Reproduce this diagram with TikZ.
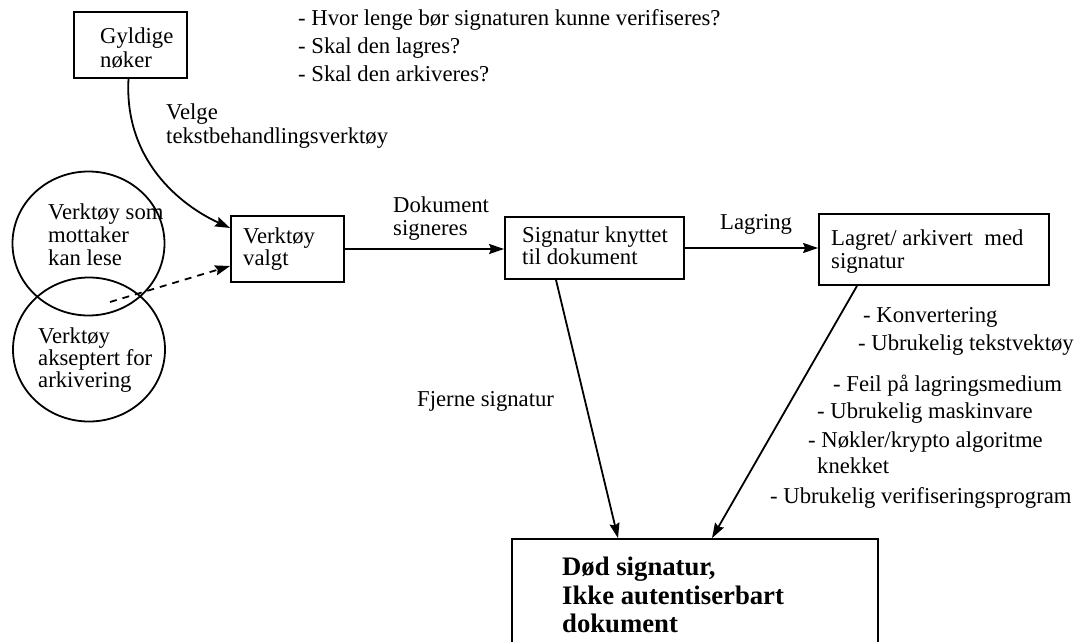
\documentclass[tikz,border=0pt]{standalone}
\usepackage{fontspec}
\setmainfont{Liberation Serif}
\usetikzlibrary{arrows.meta,calc,shapes.geometric}
\begin{document}
\begin{tikzpicture}[x=1pt,y=-1pt,
  lw/.style={line width=1.8pt},
  box/.style={draw,lw,rectangle,inner sep=0pt},
  oval/.style={draw,lw,ellipse,inner sep=0pt,minimum width=152pt,minimum height=144pt},
  txt/.style={anchor=north west,inner sep=0pt,align=left,font=\fontsize{22.7}{23}\selectfont},
  big/.style={anchor=north west,inner sep=0pt,align=left,font=\fontsize{26.7}{28.5}\selectfont\bfseries},
  arr/.style={lw,-{Stealth[length=15pt,width=10pt,inset=2pt]}},
  dsh/.style={dash pattern=on 7pt off 6pt}
]
\useasboundingbox (0,0) rectangle (1074,642);
\clip (0,0) rectangle (1074,642);

% questions at the top
\node[txt,font=\fontsize{22.7}{28}\selectfont] (qs) at (298,9.5)
  {- Hvor lenge bør signaturen kunne verifiseres?\\- Skal den lagres?\\- Skal den arkiveres?};

% valid keys
\node[box,minimum width=113pt,minimum height=66pt] (gy) at (130.5,45) {};
\node[txt,font=\fontsize{22.7}{24}\selectfont] (gyt) at (100,27.5) {Gyldige\\nøker};

\node[txt,font=\fontsize{22.7}{24}\selectfont] (velge) at (166,103.5) {Velge\\tekstbehandlingsverktøy};

% tool sets
\node[oval] (c1) at (88.5,243.5) {};
\node[txt] (c1t) at (48,203.5) {Verktøy som\\mottaker\\kan lese};
\node[oval] (c2) at (89,349.5) {};
\node[txt,font=\fontsize{22.7}{22}\selectfont] (c2t) at (38,327.5) {Verktøy\\akseptert for\\arkivering};

% main chain
\node[box,minimum width=113pt,minimum height=66pt] (vv) at (287.5,249) {};
\node[txt,font=\fontsize{22.7}{22}\selectfont] (vvt) at (243,227.5) {Verktøy\\valgt};

\node[txt] (dok) at (393,196.5) {Dokument\\signeres};

\node[box,minimum width=179pt,minimum height=62pt] (sk) at (594.5,248) {};
\node[txt,font=\fontsize{22.7}{22}\selectfont] (skt) at (522,226.5) {Signatur knyttet\\til dokument};

\node[txt] (lagring) at (720,214.5) {Lagring};

\node[box,minimum width=230pt,minimum height=71pt] (lg) at (934,249.5) {};
\node[txt] (lgt) at (831,229.5) {Lagret/ arkivert\ \ med\\signatur};

\node[txt] (fjerne) at (417,391.5) {Fjerne signatur};

% threats to the stored signature
\node[txt] (r1) at (863,307.5) {- Konvertering};
\node[txt] (r2) at (858,334.5) {- Ubrukelig tekstvektøy};
\node[txt] (r3) at (833,374.5) {- Feil på lagringsmedium};
\node[txt] (r4) at (817,402.5) {- Ubrukelig maskinvare};
\node[txt] (r5) at (808,431.5) {- Nøkler/krypto algoritme};
\node[txt] (r5b) at (817,457.5) {knekket};
\node[txt] (r6) at (770,487.5) {- Ubrukelig verifiseringsprogram};

% outcome
\node[box,minimum width=366pt,minimum height=161pt] (dod) at (695,619.5) {};
\node[big] (dodt) at (562,557) {Død signatur,\\Ikke autentiserbart\\dokument};

% connectors
\draw[arr] ($(gy.south)+(-2,0)$) .. controls (124,160) and (180,205) .. ($(vv.west)+(0,-21)$);
\coordinate (dstart) at (110,302);
\draw[arr,dsh] (dstart) -- ($(vv.west)+(0,17)$);
\draw[arr] (vv.east) -- (vv.east -| sk.west);
\draw[arr] (sk.east) -- (sk.east -| lg.west);
\draw[arr] ($(sk.south)+(-38.5,0)$) -- ($(dod.north)+(-77,0)$);
\draw[arr] ($(lg.south)+(-77,0)$) -- ($(dod.north)+(17,0)$);
\end{tikzpicture}
\end{document}
